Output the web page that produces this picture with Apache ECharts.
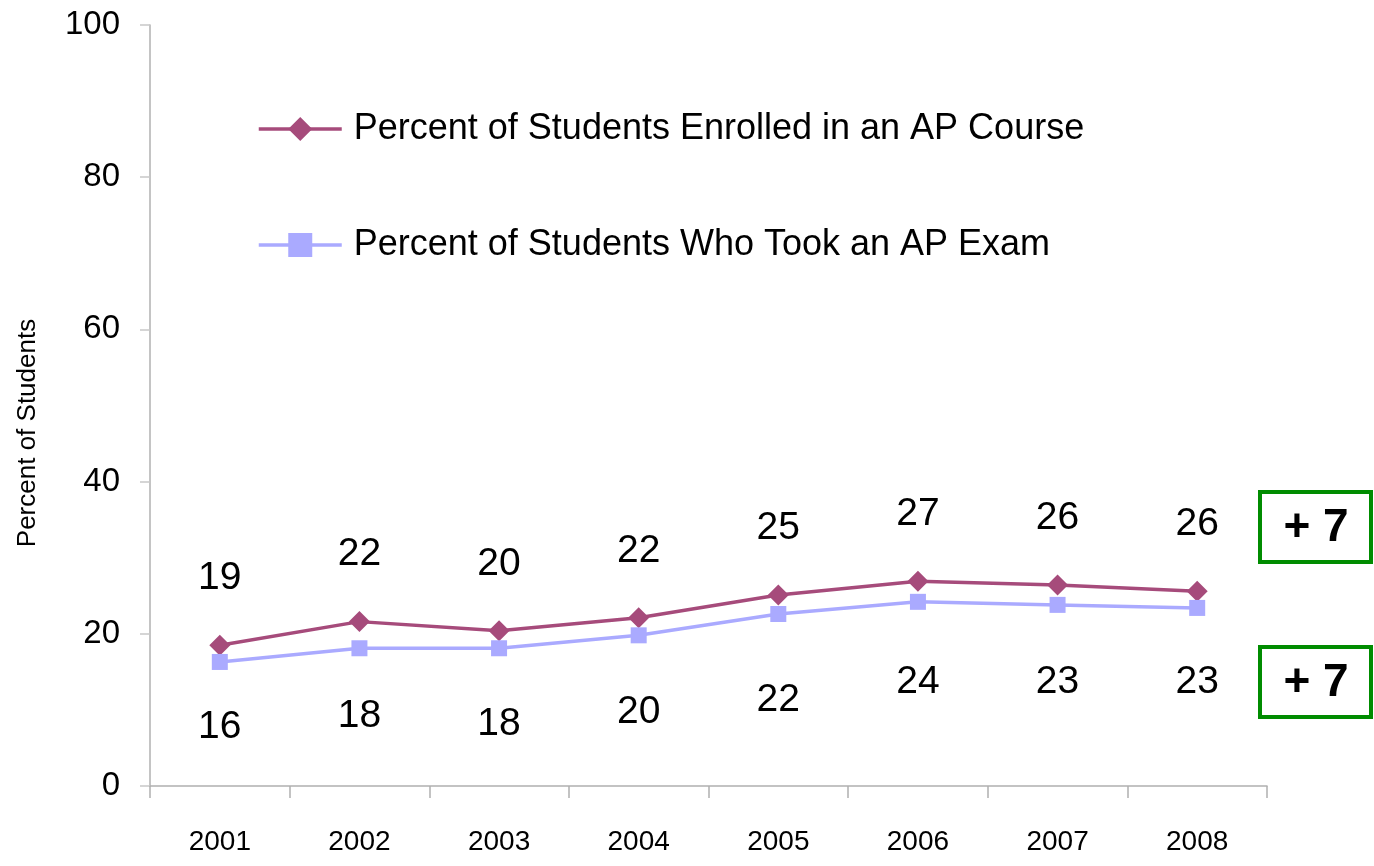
<!DOCTYPE html>
<html>
<head>
<meta charset="utf-8">
<script src="https://cdn.jsdelivr.net/npm/echarts@6/dist/echarts.min.js"></script>
<style>
  html, body { margin: 0; padding: 0; background: #fff; }
  #chart { width: 1374px; height: 866px; }
</style>
</head>
<body>
<div id="chart"></div>
<script>
// categories and values
const years = ['2001', '2002', '2003', '2004', '2005', '2006', '2007', '2008'];
const enrolled = [18.5, 21.6, 20.4, 22.1, 25.1, 26.9, 26.4, 25.6];
const tookExam = [16.3, 18.1, 18.1, 19.8, 22.6, 24.2, 23.8, 23.4];
// printed labels (as written on the chart)
const enrolledLabels = [19, 22, 20, 22, 25, 27, 26, 26];
const examLabels = [16, 18, 18, 20, 22, 24, 23, 23];
const yTicks = [0, 20, 40, 60, 80, 100];
const changes = ['+ 7', '+ 7'];

// the lower labels were nudged by hand in the original
const examLabelNudge = [-10, -8, 0, 1, 11, 5, 2, -1];

const font = '"Liberation Sans Narrow", "Liberation Sans", Arial, sans-serif';
const enrolledColor = '#a64b7b';
const examColor = '#aaaaff';

let chart = echarts.init(document.getElementById('chart'));

let option = {
  animation: false,
  grid: { left: 150, right: 107, top: 25, bottom: 80 },
  legend: {
    orient: 'vertical',
    left: 252,
    top: 106,
    itemWidth: 83,
    itemHeight: 30,
    itemGap: 80,
    lineStyle: { width: 3.5 },
    textStyle: { fontFamily: font, fontSize: 36, color: '#000', padding: [0, 0, 0, 7] },
    data: ['Percent of Students Enrolled in an AP Course', 'Percent of Students Who Took an AP Exam']
  },
  xAxis: {
    type: 'category',
    data: years,
    boundaryGap: true,
    axisLine: { lineStyle: { color: '#b0b0b0', width: 1.5 } },
    axisTick: { show: true, length: 12, lineStyle: { color: '#b0b0b0', width: 1.5 } },
    axisLabel: { margin: 42, fontFamily: font, fontSize: 28, color: '#000' },
    splitLine: { show: false }
  },
  yAxis: {
    type: 'value',
    min: yTicks[0],
    max: yTicks[yTicks.length - 1],
    interval: 20,
    axisLine: { show: true, lineStyle: { color: '#b0b0b0', width: 1.5 } },
    axisTick: { show: true, length: 10, lineStyle: { color: '#c8c8c8', width: 1.5 } },
    axisLabel: { margin: 30, fontFamily: font, fontSize: 33, color: '#000' },
    splitLine: { show: false }
  },
  series: [
    {
      name: 'Percent of Students Enrolled in an AP Course',
      type: 'line',
      data: enrolled,
      symbol: 'diamond',
      symbolSize: 21,
      color: enrolledColor,
      lineStyle: { width: 3.5, color: enrolledColor },
      label: {
        show: true,
        position: 'top',
        distance: 37,
        fontFamily: font,
        fontSize: 39,
        color: '#000',
        formatter: p => enrolledLabels[p.dataIndex]
      }
    },
    {
      name: 'Percent of Students Who Took an AP Exam',
      type: 'line',
      data: tookExam.map((v, i) => ({ value: v, label: { offset: [0, examLabelNudge[i]] } })),
      symbol: 'rect',
      symbolSize: 16,
      color: examColor,
      lineStyle: { width: 3.5, color: examColor },
      label: {
        show: true,
        position: 'bottom',
        distance: 48,
        fontFamily: font,
        fontSize: 39,
        color: '#000',
        formatter: p => examLabels[p.dataIndex]
      }
    }
  ],
  graphic: [
    {
      type: 'text',
      x: 28, y: 433,
      rotation: Math.PI / 2,
      style: {
        text: 'Percent of Students',
        fontFamily: font,
        fontSize: 26,
        fill: '#000',
        align: 'center',
        verticalAlign: 'middle'
      }
    },
    {
      type: 'group',
      left: 1258,
      top: 490,
      children: [
        { type: 'rect', shape: { x: 0, y: 0, width: 111, height: 70 },
          style: { fill: '#fff', stroke: '#008c00', lineWidth: 4 } },
        { type: 'text', x: 56, y: 36,
          style: { text: changes[0], fontFamily: font, fontWeight: 'bold', fontSize: 46, fill: '#000', align: 'center', verticalAlign: 'middle' } }
      ]
    },
    {
      type: 'group',
      left: 1258,
      top: 645,
      children: [
        { type: 'rect', shape: { x: 0, y: 0, width: 111, height: 70 },
          style: { fill: '#fff', stroke: '#008c00', lineWidth: 4 } },
        { type: 'text', x: 56, y: 36,
          style: { text: changes[1], fontFamily: font, fontWeight: 'bold', fontSize: 46, fill: '#000', align: 'center', verticalAlign: 'middle' } }
      ]
    }
  ]
};

chart.setOption(option);
</script>
</body>
</html>
